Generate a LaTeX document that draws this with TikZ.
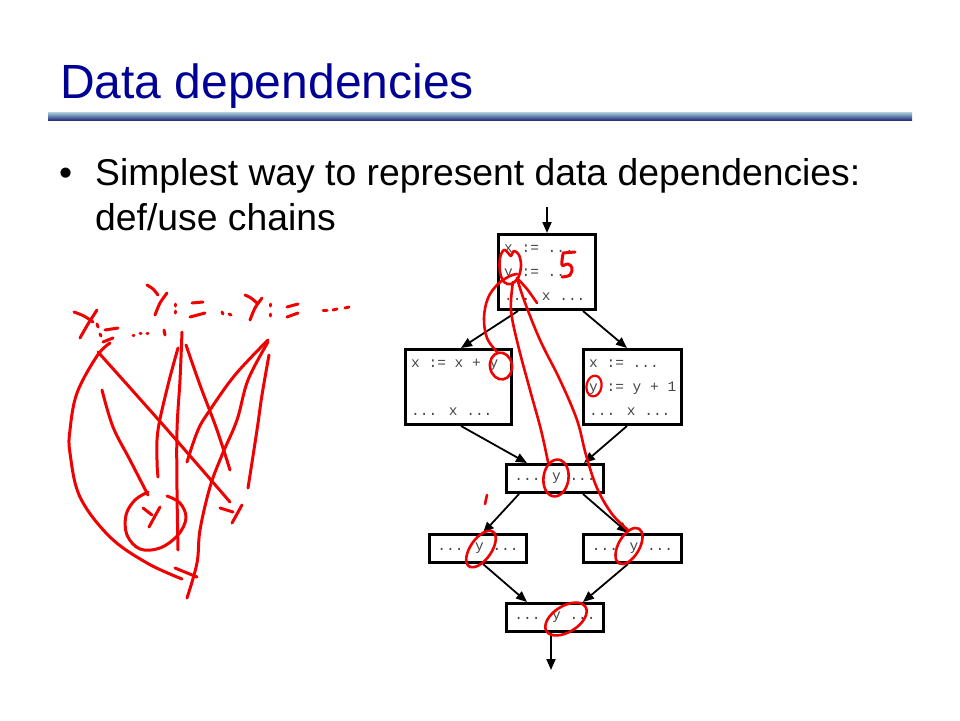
\documentclass[tikz,border=0pt]{standalone}
\usepackage{fontspec}
\setmainfont{Liberation Sans}
\newfontfamily\codefont{Liberation Mono}
\usetikzlibrary{arrows.meta,calc}
\definecolor{titleblue}{RGB}{0,0,150}
\definecolor{pen}{RGB}{240,0,0}
\definecolor{codegray}{RGB}{70,70,70}
\definecolor{rulelight}{RGB}{172,210,220}
\definecolor{ruledark}{RGB}{40,50,125}
\begin{document}
\begin{tikzpicture}[x=1pt,y=-1pt,
  blk/.style={draw=black,line width=3pt,rectangle,inner sep=0pt,fill=white},
  code/.style={font=\codefont\fontsize{14.5}{17}\selectfont,text=codegray,inner sep=0pt},
  codeline/.style={code,anchor=base west},
  flow/.style={line width=1.8pt,-{Triangle[length=11pt,width=9pt]}},
  ink/.style={draw=pen,line width=2.6pt,line cap=round,line join=round},
  inkthick/.style={draw=pen,line width=3pt,line cap=round,line join=round},
  titletext/.style={font=\fontsize{48}{56}\selectfont,text=titleblue,inner sep=0pt,anchor=base west},
  bodytext/.style={font=\fontsize{37.3}{44}\selectfont,text=black,inner sep=0pt,anchor=base west},
]
\useasboundingbox (0,0) rectangle (960,720);
\fill[white] (0,0) rectangle (960,720);

% title and rule
\node[titletext] (title) at (60,98) {Data dependencies};
\shade[top color=rulelight,bottom color=ruledark] (48,112) rectangle (912,120);

% bullet text
\node[bodytext] (bul) at (59,185) {\textbullet};
\node[bodytext] (l1) at (95,185) {Simplest way to represent data dependencies:};
\node[bodytext] (l2) at (95,230) {def/use chains};

% boxes
\node[blk,minimum width=97pt,minimum height=75pt] (A) at (547,272) {};
\node[blk,minimum width=106pt,minimum height=75pt] (B) at (458.5,387) {};
\node[blk,minimum width=98pt,minimum height=75pt] (C) at (632.5,387) {};
\node[blk,minimum width=97pt,minimum height=28pt,code] (D) at (555,478.5) {... y ...};
\node[blk,minimum width=97pt,minimum height=28pt,code] (E) at (478,548.5) {... y ...};
\node[blk,minimum width=98pt,minimum height=28pt,code] (F) at (632.5,548.5) {... y ...};
\node[blk,minimum width=97pt,minimum height=28pt,code] (G) at (555,617.5) {... y ...};

% box texts
\node[codeline] (a1) at (504,252) {x := ...};
\node[codeline] (a2) at (504,276) {y := ...};
\node[codeline] (a3) at (504,300) {... x ...};
\node[codeline] (b1) at (411,367) {x := x + y};
\node[codeline] (b3) at (411,415) {... x ...};
\node[codeline] (c1) at (589,367) {x := ...};
\node[codeline] (c2) at (589,391) {y := y + 1};
\node[codeline] (c3) at (589,415) {... x ...};

% flow arrows
\coordinate (in) at (547,207);
\coordinate (out) at (551,670);
\draw[flow] (in) -- (A.north);
\draw[flow] ([xshift=-29pt]A.south) -- ([xshift=2.5pt]B.north);
\draw[flow] ([xshift=36pt]A.south) -- ([xshift=-5.5pt]C.north);
\draw[flow] ([xshift=2.5pt]B.south) -- ([xshift=-28pt]D.north);
\draw[flow] ([xshift=-5.5pt]C.south) -- ([xshift=29pt]D.north);
\draw[flow] ([xshift=-36pt]D.south) -- ([xshift=5pt]E.north);
\draw[flow] ([xshift=28pt]D.south) -- ([xshift=-4.5pt]F.north);
\draw[flow] ([xshift=5pt]E.south) -- ([xshift=-28pt]G.north);
\draw[flow] ([xshift=-4.5pt]F.south) -- ([xshift=28pt]G.north);
\draw[flow] ([xshift=-4pt]G.south) -- (out);

% red annotations on the diagram
\draw[ink] plot[smooth cycle,tension=0.6] coordinates {(500,272) (500,258) (504,250) (509,254) (511,256) (514,251) (519,255) (521,266) (518,278) (511,284) (504,282)};
\draw[ink] plot[smooth,tension=0.6] coordinates {(497,352) (487,338) (484,318) (488,298) (498,284) (510,276) (517,274)};
\draw[ink] plot[smooth] coordinates {(517,278) (527,289) (537,303)};
\draw[ink] plot[smooth,tension=0.6] coordinates {(513,282) (511,310) (518,345) (530,390) (541,430) (548,462)};
\draw[ink] plot[smooth,tension=0.6] coordinates {(517,278) (524,300) (540,340) (560,380) (577,420) (586,455) (597,488) (612,514) (628,530)};
% "5"
\draw[ink,line width=3pt] (563,253) -- (575,252);
\draw[ink,line width=3pt] plot[smooth,tension=0.6] coordinates {(563,254) (562,265) (568,264) (572,268) (570,275) (562,277)};
% circles
\draw[ink,rotate around={10:(501,366)}] (501,366) ellipse [x radius=11,y radius=13.5];
\draw[ink,line width=2.2pt,rotate around={-10:(594,386)}] (594,386) ellipse [x radius=7.5,y radius=10.5];
\draw[ink,rotate around={-8:(556,478)}] (556,478) ellipse [x radius=12.5,y radius=18.5];
\draw[ink,rotate around={55:(481,549)}] (481,549) ellipse [x radius=21,y radius=10.5];
\draw[ink,rotate around={60:(629,546)}] (629,546) ellipse [x radius=20,y radius=10.5];
\draw[ink,rotate around={32:(566,619)}] (566,619) ellipse [x radius=23,y radius=13];
\draw[ink] (487,495) -- (485,504);

% left scribbles: handwritten "y := ..."
\draw[inkthick] plot[smooth] coordinates {(74,312) (84,316) (93,322)};
\draw[inkthick] plot[smooth] coordinates {(97,310) (88,324) (80,338)};
\draw[inkthick] (97,324) -- (98,327);
\draw[inkthick] (100,334) -- (101,336);
\draw[inkthick] (105,330) -- (118,328);
\draw[inkthick] (103,342) -- (113,338);
\draw[inkthick] (133,335) -- (134,335);
\draw[inkthick] (140,333) -- (141,333);
\draw[inkthick] (147,333) -- (148,333);
\draw[inkthick] (164,330) -- (165,335);
\draw[inkthick] plot[smooth] coordinates {(147,285) (153,289) (158,295)};
\draw[inkthick] plot[smooth] coordinates {(167,293) (160,303) (155,315)};
\draw[inkthick] (175,304) -- (175,306);
\draw[inkthick] (175,311) -- (175,313);
\draw[inkthick] (192,303) -- (203,302);
\draw[inkthick] (190,317) -- (205,313);
\draw[inkthick] (222,312) -- (223,314);
\draw[inkthick] (229,314) -- (231,315);
\draw[inkthick] plot[smooth] coordinates {(245,295) (251,298) (257,303)};
\draw[inkthick] plot[smooth] coordinates {(262,298) (255,308) (250,320)};
\draw[inkthick] (270,304) -- (270,306);
\draw[inkthick] (270,314) -- (270,316);
\draw[inkthick] (287,307) -- (298,304);
\draw[inkthick] (287,317) -- (298,313);
\draw[inkthick] (323,310) -- (327,310);
\draw[inkthick] (333,310) -- (337,309);
\draw[inkthick] (345,308) -- (349,307);
% left scribbles: lines
\draw[inkthick] plot[smooth,tension=0.6] coordinates {(110,343) (97,356) (77,393) (70,430) (70,453) (80,497) (110,537) (147,563) (182,579)};
\draw[inkthick] (175,568) -- (197,577);
\draw[inkthick] plot[smooth] coordinates {(98,352) (164,426) (230,502)};
\draw[inkthick] (220,508) -- (233,512);
\draw[inkthick] (242,505) -- (232,523);
\draw[inkthick] plot[smooth,tension=0.6] coordinates {(102,390) (113,427) (130,460) (148,495)};
\draw[inkthick] plot[smooth,tension=0.6] coordinates {(148,492) (135,500) (126,515) (127,535) (140,549) (160,548) (178,535) (186,518) (180,503) (167,496)};
\draw[inkthick] (143,508) -- (152,515);
\draw[inkthick] (160,507) -- (149,527);
\draw[inkthick] plot[smooth,tension=0.6] coordinates {(178,348) (168,385) (158,430) (157,460) (158,477)};
\draw[inkthick] plot[smooth,tension=0.6] coordinates {(182,332) (180,380) (177,430) (177,490) (178,550)};
\draw[inkthick] plot[smooth,tension=0.6] coordinates {(186,345) (200,385) (217,430) (230,470)};
\draw[inkthick] plot[smooth,tension=0.6] coordinates {(268,340) (235,375) (210,410) (198,430) (187,462)};
\draw[inkthick] plot[smooth,tension=0.6] coordinates {(268,342) (248,380) (237,420) (222,455) (210,487) (200,530) (197,563) (187,598)};
\draw[inkthick] plot[smooth,tension=0.6] coordinates {(269,355) (262,395) (257,430) (248,488)};
\end{tikzpicture}
\end{document}
